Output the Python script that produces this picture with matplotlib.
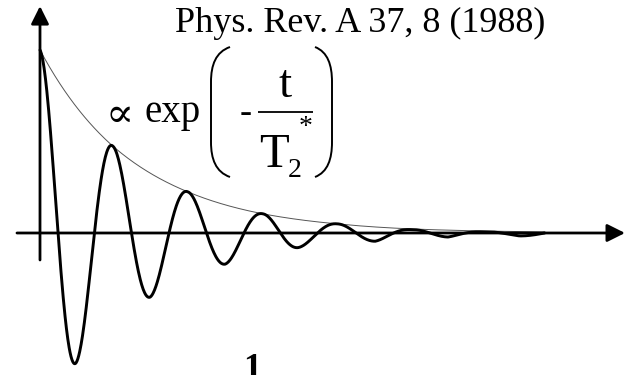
# Free induction decay sketch: damped oscillation of the signal together with
# its exponential envelope, drawn on bare arrow axes with the decay law written in.

from __future__ import annotations
import numpy as np
import matplotlib
matplotlib.use("Agg")
import matplotlib.pyplot as plt
from matplotlib.path import Path
from matplotlib.patches import PathPatch

# turning points of the signal (time in oscillation periods, amplitude relative to t = 0)
peak_times: list[float] = [0.0, 0.48, 0.97, 1.47, 1.97, 2.47, 2.97, 3.44, 3.96, 4.47, 4.96, 5.44, 5.91, 6.40]
peak_values: list[float] = [1.0, -0.71, 0.475, -0.35, 0.225, -0.17, 0.105, -0.08, 0.05, -0.045, 0.018, -0.022, 0.006, -0.016]
signal_end: float = 6.73

# envelope, running over the positive maxima
envelope_times: list[float] = [0.0, 0.97, 1.97, 2.97, 3.96, 4.96, 5.91, 6.73]
envelope_values: list[float] = [1.0, 0.475, 0.225, 0.105, 0.05, 0.022, 0.011, 0.006]

reference_text = "Phys. Rev. A 37, 8 (1988)"
panel_label = "1"

SERIF = ["Liberation Serif", "DejaVu Serif"]


def build_signal(times: list[float], values: list[float], t_end: float, n: int = 80) -> tuple[np.ndarray, np.ndarray]:
	#each half swing goes from one turning point to the next, amplitude shrinking geometrically
	xs: list[np.ndarray] = []
	ys: list[np.ndarray] = []
	s = np.linspace(0.0, 1.0, n)
	for i in range(len(times)):
		t0 = times[i]
		a0 = abs(values[i])
		sign = 1.0 if values[i] >= 0 else -1.0
		if i + 1 < len(times):
			t1 = times[i + 1]
			a1 = abs(values[i + 1])
			amp = a0 * (a1 / a0) ** s
			ys.append(sign * amp * np.cos(np.pi * s))
		else:
			#last quarter swing back to the axis
			t1 = t_end
			ys.append(sign * a0 * np.cos(0.5 * np.pi * s))
		xs.append(t0 + (t1 - t0) * s)
	return np.concatenate(xs), np.concatenate(ys)


def build_envelope(times: list[float], values: list[float], n: int = 60) -> tuple[np.ndarray, np.ndarray]:
	#exponential pieces between the listed envelope points
	xs: list[np.ndarray] = []
	ys: list[np.ndarray] = []
	s = np.linspace(0.0, 1.0, n)
	for i in range(len(times) - 1):
		xs.append(times[i] + (times[i + 1] - times[i]) * s)
		ys.append(values[i] * (values[i + 1] / values[i]) ** s)
	return np.concatenate(xs), np.concatenate(ys)


def paren_path(x_tip: float, x_mid: float, y_top: float, y_bot: float) -> Path:
	#tall bracket: curled ends, straight middle
	d = x_tip - x_mid
	verts = [
		(x_tip, y_top),
		(x_mid + 0.25 * d, y_top + 5), (x_mid, y_top + 18), (x_mid, y_top + 35),
		(x_mid, y_bot - 35),
		(x_mid, y_bot - 18), (x_mid + 0.25 * d, y_bot - 5), (x_tip, y_bot),
	]
	codes = [Path.MOVETO, Path.CURVE4, Path.CURVE4, Path.CURVE4, Path.LINETO,
			Path.CURVE4, Path.CURVE4, Path.CURVE4]
	return Path(verts, codes)


def plot_decay() -> None:
	fig = plt.figure(figsize=(6.35, 3.75), dpi=100)
	ax = fig.add_axes([0, 0, 1, 1])
	ax.set_xlim(-0.5333, 7.9333)
	ax.set_ylim(-0.776, 1.2732)
	ax.axis("off")

	#arrow axes
	arrow = dict(arrowstyle="-|>,head_length=0.6,head_width=0.3", mutation_scale=18,
				lw=2.0, color="black", shrinkA=0, shrinkB=0)
	ax.annotate("", xy=(7.8, 0.0), xytext=(-0.307, 0.0), arrowprops=arrow)
	ax.annotate("", xy=(0.0, 1.24), xytext=(0.0, -0.1475), arrowprops=arrow)

	env_x, env_y = build_envelope(envelope_times, envelope_values)
	ax.plot(env_x, env_y, color="#555555", lw=0.7, solid_capstyle="butt")

	sig_x, sig_y = build_signal(peak_times, peak_values, signal_end)
	ax.plot(sig_x, sig_y, color="black", lw=2.1, solid_capstyle="round")

	#text layer in pixel units, origin top left
	tx = fig.add_axes([0, 0, 1, 1])
	tx.set_xlim(0, 635)
	tx.set_ylim(375, 0)
	tx.axis("off")
	tx.patch.set_alpha(0.0)

	tx.text(175, 32, reference_text, fontsize=26, family=SERIF, va="baseline", ha="left")
	tx.text(106, 127, "\u221d", fontsize=30, family=SERIF, weight="light", va="baseline", ha="left")
	tx.text(145, 122, "exp", fontsize=28, family=SERIF, va="baseline", ha="left")
	tx.text(240, 122, "-", fontsize=26, family=SERIF, va="baseline", ha="left")
	tx.text(285, 97, "t", fontsize=34, family=SERIF, va="baseline", ha="center")
	tx.plot([258, 313], [112, 112], color="black", lw=1.3, solid_capstyle="butt")
	tx.text(259, 167, "T", fontsize=35, family=SERIF, va="baseline", ha="left")
	tx.text(288, 177, "2", fontsize=20, family=SERIF, va="baseline", ha="left")
	tx.text(306, 128, "*", fontsize=20, family=SERIF, va="center", ha="center")

	tx.add_patch(PathPatch(paren_path(230, 211, 47, 177), fill=False, lw=1.4, color="black"))
	tx.add_patch(PathPatch(paren_path(315, 332, 47, 177), fill=False, lw=1.4, color="black"))

	tx.text(252, 378, panel_label, fontsize=26, family=SERIF, weight="bold", va="baseline", ha="center")

	fig.savefig("out.png", dpi=100)
	plt.close(fig)


def main() -> int:
	plot_decay()
	return 0


if __name__ == "__main__":
	raise SystemExit(main())
